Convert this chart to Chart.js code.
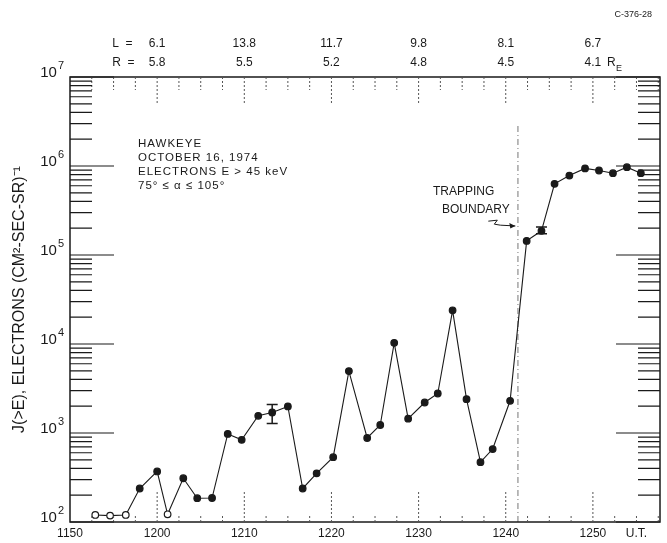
<!DOCTYPE html>
<html>
<head>
<meta charset="utf-8">
<script src="https://cdn.jsdelivr.net/npm/chart.js@4.4.1/dist/chart.umd.min.js"></script>
<style>
  html, body { margin: 0; padding: 0; background: #fff; }
  #wrap { width: 667px; height: 543px; position: relative; }
</style>
</head>
<body>
<div id="wrap"><canvas id="fluxChart"></canvas></div>
<script>
// temps en minutes après 11:50 UT
const minutes = [2.9, 4.6, 6.4, 8.0, 10.0, 11.2, 13.0, 14.6, 16.3, 18.1, 19.7, 21.6, 23.2, 25.0, 26.7, 28.3, 30.2, 32.0, 34.1, 35.6, 37.2, 38.8, 40.7, 42.2, 43.9, 45.5, 47.1, 48.5, 50.5, 52.4, 54.1, 55.6, 57.3, 59.1, 60.7, 62.3, 63.9, 65.5];
const flux = [120, 118, 120, 238, 370, 122, 310, 185, 186, 977, 838, 1560, 1700, 1990, 238, 352, 535, 4960, 879, 1230, 10300, 1450, 2200, 2780, 23900, 2400, 470, 660, 2300, 144000, 187000, 630000, 780000, 940000, 890000, 830000, 970000, 830000];
const openPoints = [0, 1, 2, 5];

// barres d'erreur
const errIndex = [12, 30];
const errLow = [1280, 173000];
const errHigh = [2090, 207000];

// frontière de piégeage
const boundaryTime = 51.4;
const boundaryRange = [100, 3000000];
const arrowFrom = [48.0, 240000];
const arrowTo = [51.1, 212000];

// axes
const tickMinutes = [0, 10, 20, 30, 40, 50, 60, 65];
const tickLabels = ['1150', '1200', '1210', '1220', '1230', '1240', '1250', 'U.T.'];
const decades = [1e2, 1e3, 1e4, 1e5, 1e6, 1e7];
const decadeExp = ['2', '3', '4', '5', '6', '7'];
const shellMinutes = [10, 20, 30, 40, 50, 60];
const shellL = ['6.1', '13.8', '11.7', '9.8', '8.1', '6.7'];
const shellR = ['5.8', '5.5', '5.2', '4.8', '4.5', '4.1'];

const infoLines = ['HAWKEYE', 'OCTOBER 16, 1974', 'ELECTRONS E > 45 keV', '75° ≤ α ≤ 105°'];

const ink = '#1a1a1a';
const font = '"Liberation Sans", Arial, sans-serif';

// décor : cadre, graduations internes, barres d'erreur, textes
const decor = {
    id: 'decor',
    afterDatasetsDraw(chart) {
        const { ctx, chartArea: a, scales: { x, y } } = chart;
        ctx.save();

        // cadre
        ctx.strokeStyle = ink;
        ctx.lineWidth = 1.5;
        ctx.strokeRect(a.left, a.top, a.right - a.left, a.bottom - a.top);

        // graduations du temps (haut et bas)
        ctx.lineWidth = 1;
        ctx.strokeStyle = '#555';
        ctx.setLineDash([2, 2]);
        for (let m = 2.5; m < x.max; m += 2.5) {
            const px = x.getPixelForValue(m);
            const major = m % 10 === 0;
            ctx.beginPath();
            ctx.moveTo(px, a.bottom);
            ctx.lineTo(px, a.bottom - (major ? 30 : 8));
            ctx.moveTo(px, a.top);
            ctx.lineTo(px, a.top + (major ? 27 : 13));
            ctx.stroke();
        }
        ctx.setLineDash([]);

        // graduations log (gauche et droite) + étiquettes 10^n
        ctx.strokeStyle = ink;
        ctx.lineWidth = 1.2;
        ctx.fillStyle = ink;
        ctx.textBaseline = 'middle';
        decades.forEach((d, i) => {
            for (let k = 1; k <= 9; k++) {
                const v = d * k;
                if (v > y.max) break;
                const py = y.getPixelForValue(v);
                const len = k === 1 ? 44 : 22;
                ctx.beginPath();
                ctx.moveTo(a.left, py);
                ctx.lineTo(a.left + len, py);
                ctx.moveTo(a.right, py);
                ctx.lineTo(a.right - len, py);
                ctx.stroke();
            }
            const py = y.getPixelForValue(d) - 5;
            ctx.textAlign = 'right';
            ctx.font = '11px ' + font;
            ctx.fillText(decadeExp[i], a.left - 6, py - 6);
            const ew = ctx.measureText(decadeExp[i]).width;
            ctx.font = '15px ' + font;
            ctx.fillText('10', a.left - 7 - ew, py + 1);
        });

        // barres d'erreur
        ctx.lineWidth = 1.5;
        errIndex.forEach((idx, i) => {
            const px = x.getPixelForValue(minutes[idx]);
            const top = y.getPixelForValue(errHigh[i]);
            const bot = y.getPixelForValue(errLow[i]);
            ctx.beginPath();
            ctx.moveTo(px, top); ctx.lineTo(px, bot);
            ctx.moveTo(px - 5.5, top); ctx.lineTo(px + 5.5, top);
            ctx.moveTo(px - 5.5, bot); ctx.lineTo(px + 5.5, bot);
            ctx.stroke();
        });

        // flèche "trapping boundary"
        const p0 = { x: x.getPixelForValue(arrowFrom[0]), y: y.getPixelForValue(arrowFrom[1]) };
        const p1 = { x: x.getPixelForValue(arrowTo[0]), y: y.getPixelForValue(arrowTo[1]) };
        ctx.lineWidth = 1;
        ctx.beginPath();
        ctx.moveTo(p0.x, p0.y);
        ctx.lineTo(p0.x + 9, p0.y - 1);
        ctx.lineTo(p0.x + 6, p0.y + 3);
        ctx.lineTo(p0.x + 12, p0.y + 4);
        ctx.lineTo(p1.x, p1.y);
        ctx.stroke();
        ctx.beginPath();
        ctx.moveTo(p1.x, p1.y);
        ctx.lineTo(p1.x - 6, p1.y - 3);
        ctx.lineTo(p1.x - 5, p1.y + 2.5);
        ctx.closePath();
        ctx.fill();

        // textes
        ctx.font = '12px ' + font;
        ctx.textAlign = 'left';
        ctx.fillText('TRAPPING', 433, 192);
        ctx.fillText('BOUNDARY', 442, 210);

        // lettrage espacé du bloc d'infos
        ctx.font = '11.5px ' + font;
        ctx.letterSpacing = '1px';
        infoLines.forEach((t, i) => ctx.fillText(t, 138, 144 + i * 14));
        ctx.letterSpacing = '0px';

        // L et R en haut
        ctx.font = '12px ' + font;
        ctx.textAlign = 'center';
        shellMinutes.forEach((m, i) => {
            const px = x.getPixelForValue(m);
            ctx.fillText(shellL[i], px, 44);
            ctx.fillText(shellR[i], px, 63);
        });
        const first = x.getPixelForValue(shellMinutes[0]);
        ctx.textAlign = 'left';
        ctx.fillText('L  =', first - 45, 44);
        ctx.fillText('R  =', first - 45, 63);
        const last = x.getPixelForValue(shellMinutes[shellMinutes.length - 1]);
        ctx.fillText('R', last + 14, 63);
        ctx.font = '9px ' + font;
        ctx.fillText('E', last + 23, 69);

        ctx.textAlign = 'right';
        ctx.fillText('C-376-28', 652, 15);

        ctx.restore();
    }
};

const ctx = document.getElementById('fluxChart').getContext('2d');
new Chart(ctx, {
    type: 'line',
    data: {
        datasets: [{
            data: minutes.map((m, i) => ({ x: m, y: flux[i] })),
            borderColor: ink,
            borderWidth: 1.1,
            pointRadius: 3.3,
            pointBorderWidth: 1.2,
            pointBorderColor: ink,
            pointBackgroundColor: minutes.map((m, i) => openPoints.includes(i) ? '#fff' : ink),
            tension: 0,
        }, {
            data: boundaryRange.map(v => ({ x: boundaryTime, y: v })),
            borderColor: '#777',
            borderWidth: 1,
            borderDash: [6, 3, 1, 3],
            pointRadius: 0,
        }]
    },
    options: {
        responsive: true,
        maintainAspectRatio: false,
        animation: false,
        layout: { padding: { top: 77, right: 7, left: 0, bottom: 0 } },
        plugins: {
            legend: { display: false },
            tooltip: { enabled: false },
        },
        scales: {
            x: {
                type: 'linear',
                min: 0,
                max: 67.7,
                afterBuildTicks: scale => { scale.ticks = tickMinutes.map(v => ({ value: v })); },
                afterFit: scale => { scale.height = 21; },
                grid: { display: false, drawTicks: false },
                border: { display: false },
                ticks: {
                    autoSkip: false,
                    maxRotation: 0,
                    padding: 4,
                    color: ink,
                    font: { family: font, size: 12 },
                    callback: v => tickLabels[tickMinutes.indexOf(v)],
                }
            },
            y: {
                type: 'logarithmic',
                min: 1e2,
                max: 1e7,
                afterBuildTicks: scale => { scale.ticks = decades.map(v => ({ value: v })); },
                afterFit: scale => { scale.width = 70; },
                grid: { display: false, drawTicks: false },
                border: { display: false },
                ticks: { display: false },
                title: {
                    display: true,
                    text: 'J(>E), ELECTRONS (CM²-SEC-SR)⁻¹',
                    color: ink,
                    font: { family: font, size: 16 },
                    padding: { top: 10, bottom: 0 },
                }
            }
        }
    },
    plugins: [decor]
});
</script>
</body>
</html>
